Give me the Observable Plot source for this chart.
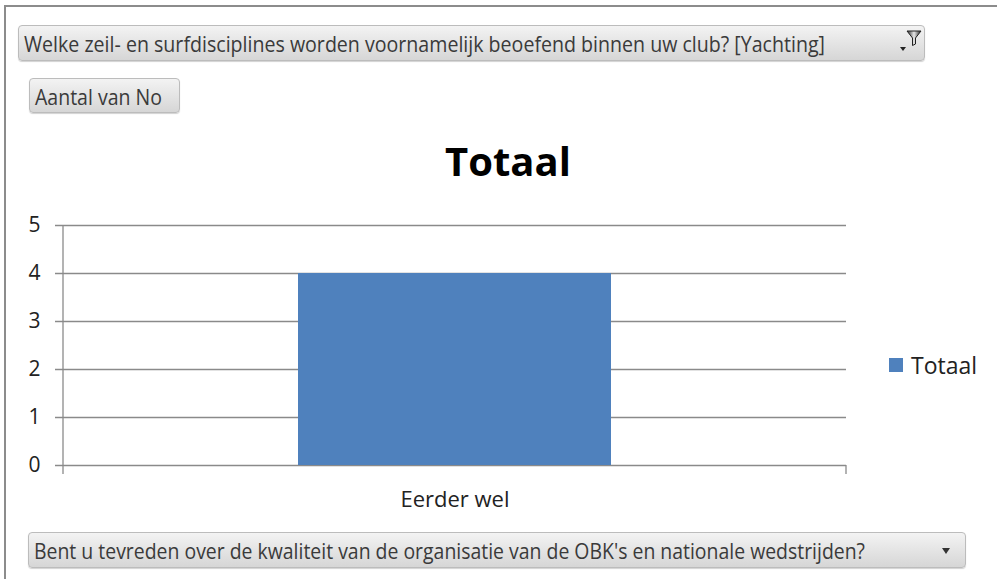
<!DOCTYPE html>
<html><head><meta charset="utf-8">
<script src="https://cdn.jsdelivr.net/npm/d3@7"></script>
<script src="https://cdn.jsdelivr.net/npm/@observablehq/plot@0.6"></script>
<style>
html,body{margin:0;padding:0;background:#fff}
body{width:997px;height:579px;overflow:hidden;position:relative;font-family:"Open Sans",sans-serif}
#frame{position:absolute;left:4px;top:5px;width:1100px;height:700px;border-left:2px solid #8c8c8c;border-top:2px solid #8c8c8c;box-sizing:border-box}
#chart{position:absolute;left:0;top:200px}
.btn{position:absolute;box-sizing:border-box;border:1px solid #bcbcbc;border-radius:4px;background:linear-gradient(#f3f3f3,#d6d6d6);box-shadow:0 1px 1px rgba(0,0,0,.18);color:#3a3a3a;white-space:nowrap;overflow:hidden}
.btn .t{position:absolute;left:5px;top:50%;font-size:22px;line-height:22px;transform-origin:left center;font-family:"Open Sans",sans-serif}
.btn svg{position:absolute}
#title{position:absolute;left:0;width:1016px;top:141px;text-align:center;font-size:40px;line-height:40px;font-weight:700;color:#000}
#legend{position:absolute;left:889px;top:349px;display:flex;align-items:center;font-size:23px;color:#222}
#legend .sw{width:14px;height:14px;margin-right:8px}
</style>
</head><body>
<div id="frame"></div>
<div id="chart"></div>
<div id="title"></div>
<div id="legend"></div>
<div class="btn" id="b1" style="left:18px;top:25px;width:907px;height:36px"><span class="t" data-w="801"></span>
<svg style="left:880px;top:2px" width="26" height="30" viewBox="0 0 26 30">
<path d="M1 19 L7 19 L4 23 Z" fill="#222"/>
<defs><linearGradient id="fg" x1="0" x2="1"><stop offset="0" stop-color="#222"/><stop offset=".5" stop-color="#e8e8e8"/><stop offset="1" stop-color="#222"/></linearGradient></defs>
<path d="M8 3 L22 3 L16.5 10 L16.5 16 L13.5 17.5 L13.5 10 Z" fill="url(#fg)" stroke="#222" stroke-width="1"/>
</svg></div>
<div class="btn" id="b2" style="left:29px;top:78px;width:151px;height:35px"><span class="t" data-w="127"></span></div>
<div class="btn" id="b3" style="left:28px;top:532px;width:938px;height:36px"><span class="t" data-w="831"></span>
<svg style="left:912px;top:14px" width="12" height="8"><path d="M1 1 L9 1 L5 7 Z" fill="#333"/></svg></div>
<script>
// ---- data ----
const categories = ["Eerder wel"];
const values = [4];
const seriesName = "Totaal";
const yTicks = [0, 1, 2, 3, 4, 5];
const titleText = "Totaal";
const filterLabel = "Welke zeil- en surfdisciplines worden voornamelijk beoefend binnen uw club? [Yachting]";
const valueLabel = "Aantal van No";
const axisFieldLabel = "Bent u tevreden over de kwaliteit van de organisatie van de OBK's en nationale wedstrijden?";
const barColor = "#4F81BD";

const data = categories.map((c, i) => ({category: c, value: values[i], series: seriesName}));

const gridColor = "#8a8a8a";
const chart = Plot.plot({
  width: 997,
  height: 325,
  marginLeft: 63,
  marginRight: 151,
  marginTop: 25,
  marginBottom: 60,
  style: {fontFamily: "Open Sans, sans-serif", fontSize: "21px", color: "#222", background: "transparent", overflow: "visible"},
  x: {domain: categories, paddingInner: 0.6, paddingOuter: 0.3, label: null},
  y: {domain: [0, 5], ticks: yTicks, label: null},
  marks: [
    Plot.ruleY(yTicks, {stroke: gridColor, strokeWidth: 1.3, insetLeft: -8}),
    Plot.barY(data, {x: "category", y: "value", fill: barColor}),
    Plot.axisY({ticks: yTicks, tickSize: 0, tickPadding: 23, tickFormat: d => String(d), fontSize: 21, fill: "#222"}),
    Plot.axisX({tickSize: 0, tickPadding: 26, fontSize: 22, fill: "#222"})
  ]
});
document.getElementById("chart").appendChild(chart);

// axis line and category boundary ticks from the scales
const xs = chart.scale("x"), ys = chart.scale("y");
const y0 = ys.apply(0), y5 = ys.apply(5);
const [xa, xb] = xs.range;
const svg = d3.select(chart);
svg.append("line").attr("x1", xa).attr("x2", xa).attr("y1", y5).attr("y2", y0 + 9).attr("stroke", gridColor).attr("stroke-width", 1.3);
svg.append("line").attr("x1", xb).attr("x2", xb).attr("y1", y0).attr("y2", y0 + 9).attr("stroke", gridColor).attr("stroke-width", 1.3);

document.getElementById("title").textContent = titleText;
const lg = document.getElementById("legend");
lg.innerHTML = `<div class="sw" style="background:${barColor}"></div><span>${seriesName}</span>`;

const texts = {b1: filterLabel, b2: valueLabel, b3: axisFieldLabel};
for (const id in texts) {
  const s = document.querySelector("#" + id + " .t");
  s.textContent = texts[id];
  const w = s.getBoundingClientRect().width;
  const k = (+s.dataset.w) / w;
  s.style.transform = `translateY(-50%) scaleX(${k})`;
}
</script>
</body></html>
